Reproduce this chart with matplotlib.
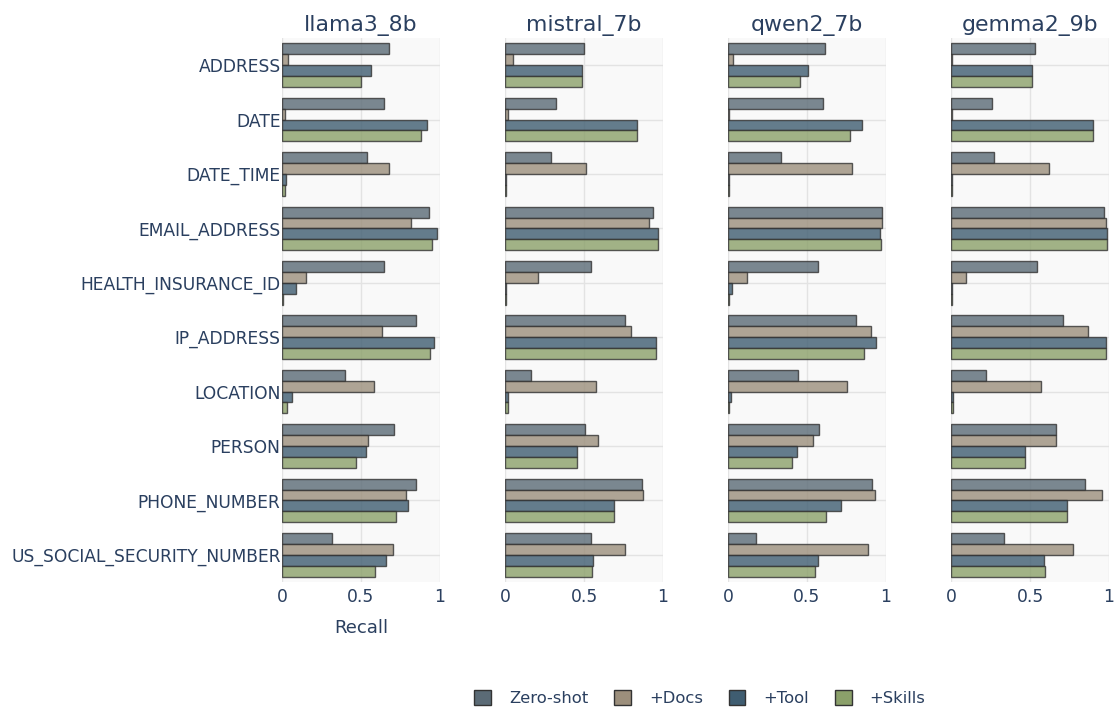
import matplotlib
matplotlib.use('Agg')
import matplotlib.pyplot as plt
import numpy as np
from matplotlib.patches import Patch

plt.rcParams['font.family'] = ['DejaVu Sans']

entities = ['ADDRESS', 'DATE', 'DATE_TIME', 'EMAIL_ADDRESS', 'HEALTH_INSURANCE_ID',
            'IP_ADDRESS', 'LOCATION', 'PERSON', 'PHONE_NUMBER', 'US_SOCIAL_SECURITY_NUMBER']
models = ['llama3_8b', 'mistral_7b', 'qwen2_7b', 'gemma2_9b']
conditions = ['Zero-shot', '+Docs', '+Tool', '+Skills']

# recall per model, rows = conditions, cols = entities
llama3_8b = [
    [0.68, 0.645, 0.535, 0.928, 0.643, 0.846, 0.397, 0.709, 0.848, 0.314],
    [0.04, 0.02, 0.68, 0.816, 0.15, 0.633, 0.584, 0.546, 0.783, 0.70],
    [0.565, 0.915, 0.025, 0.979, 0.086, 0.962, 0.063, 0.532, 0.795, 0.656],
    [0.50, 0.877, 0.02, 0.947, 0.008, 0.939, 0.034, 0.466, 0.72, 0.591],
]
mistral_7b = [
    [0.502, 0.322, 0.294, 0.934, 0.542, 0.758, 0.167, 0.504, 0.864, 0.542],
    [0.05, 0.02, 0.513, 0.909, 0.21, 0.797, 0.578, 0.587, 0.873, 0.758],
    [0.49, 0.833, 0.005, 0.97, 0.005, 0.953, 0.017, 0.455, 0.689, 0.557],
    [0.49, 0.837, 0.005, 0.97, 0.005, 0.955, 0.017, 0.458, 0.689, 0.549],
]
qwen2_7b = [
    [0.616, 0.601, 0.335, 0.973, 0.567, 0.81, 0.441, 0.574, 0.914, 0.175],
    [0.034, 0.004, 0.783, 0.977, 0.118, 0.903, 0.755, 0.536, 0.928, 0.884],
    [0.506, 0.846, 0.006, 0.96, 0.027, 0.935, 0.021, 0.435, 0.713, 0.57],
    [0.458, 0.774, 0.006, 0.966, 0.006, 0.861, 0.008, 0.403, 0.62, 0.549],
]
gemma2_9b = [
    [0.53, 0.258, 0.269, 0.97, 0.547, 0.71, 0.222, 0.667, 0.85, 0.337],
    [0.006, 0.004, 0.623, 0.981, 0.097, 0.864, 0.57, 0.665, 0.953, 0.771],
    [0.51, 0.90, 0.006, 0.987, 0.008, 0.979, 0.013, 0.47, 0.733, 0.587],
    [0.51, 0.90, 0.006, 0.987, 0.008, 0.979, 0.013, 0.47, 0.733, 0.598],
]
results = [llama3_8b, mistral_7b, qwen2_7b, gemma2_9b]

colors = ['#5b6b76', '#9c8f7c', '#3f5d71', '#8ba06a']
text_color = '#2a3f5f'

W, H = 1114, 708
fig = plt.figure(figsize=(W / 100, H / 100), dpi=100)
fig.patch.set_facecolor('white')

lefts = [282, 505, 728, 951]
top, bottom, pw = 38, 582, 158
bar_h = 0.2
y = np.arange(len(entities))

for i, (model, data) in enumerate(zip(models, results)):
    ax = fig.add_axes([lefts[i] / W, 1 - bottom / H, pw / W, (bottom - top) / H])
    ax.set_facecolor('#f9f9f9')
    for k in range(4):
        offs = (k - 1.5) * bar_h
        ax.barh(y + offs, data[k], height=bar_h, color=colors[k], alpha=0.8,
                edgecolor='#333333', linewidth=1.0, zorder=3)
    ax.set_xlim(0, 1.0)
    ax.set_ylim(len(entities) - 0.5, -0.5)
    ax.set_xticks([0, 0.5, 1])
    ax.set_xticklabels(['0', '0.5', '1'])
    ax.set_yticks(y)
    if i == 0:
        ax.set_yticklabels(entities)
        ax.set_xlabel('Recall', fontsize=13, color=text_color, labelpad=10)
    else:
        ax.set_yticklabels([])
    ax.grid(True, color='#e3e3e3', linewidth=1, zorder=0)
    ax.tick_params(length=0, labelsize=12.3, colors=text_color)
    ax.tick_params(axis='y', pad=1)
    ax.tick_params(axis='x', pad=4)
    for s in ax.spines.values():
        s.set_visible(False)
    ax.set_title(model, fontsize=15.8, color=text_color, pad=5)

handles = [Patch(facecolor=c, edgecolor='#333333', linewidth=1.0, label=l)
           for c, l in zip(colors, conditions)]
fig.legend(handles=handles, loc='center', bbox_to_anchor=(700 / W, 1 - 698 / H),
           ncol=4, frameon=False, fontsize=11.8, labelcolor=text_color,
           handlelength=1.0, handleheight=1.0, columnspacing=1.6, handletextpad=1.1)

fig.savefig('out.png', dpi=100)
